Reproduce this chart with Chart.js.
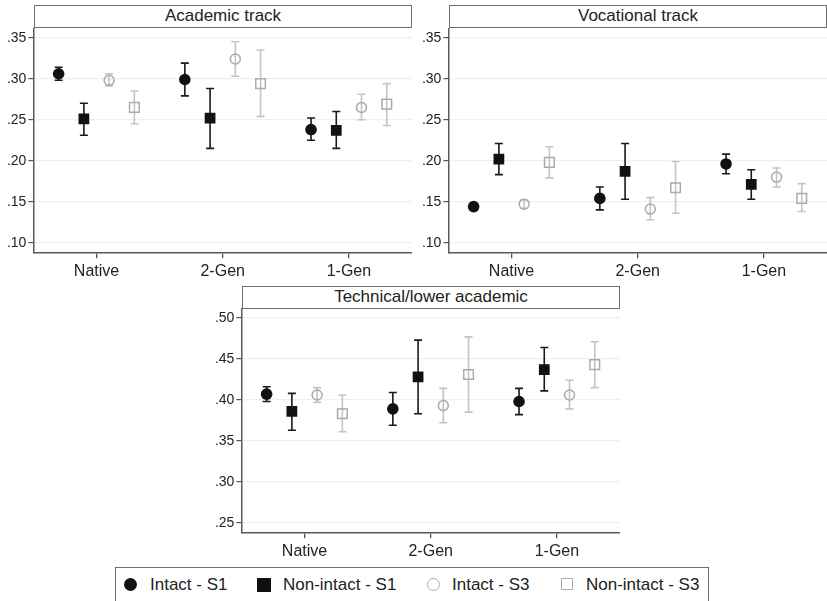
<!DOCTYPE html>
<html>
<head>
<meta charset="utf-8">
<script src="https://cdn.jsdelivr.net/npm/chart.js@4.4.0/dist/chart.umd.min.js"></script>
<style>
  body { margin: 0; background: #fff; font-family: "Liberation Sans", Arial, sans-serif; }
  #wrap { position: relative; width: 827px; height: 601px; overflow: hidden; }
  canvas { position: absolute; }
  .head {
    position: absolute; box-sizing: border-box; height: 23px;
    border: 1.5px solid #6e6e6e; background: #fff; color: #222;
    font-size: 17px; line-height: 20px; text-align: center;
  }
  #legend {
    position: absolute; left: 115px; top: 567px; width: 594px; height: 36px;
    box-sizing: border-box; border: 1.5px solid #6e6e6e; background: #fff;
    font-size: 17px; color: #222;
  }
  .item { position: absolute; top: 7px; line-height: 20px; }
  .mk { position: absolute; box-sizing: border-box; }
</style>
</head>
<body>
<div id="wrap">
  <div class="head" style="left:34px;top:5px;width:378px;">Academic track</div>
  <div class="head" style="left:449px;top:5px;width:378px;">Vocational track</div>
  <div class="head" style="left:242px;top:286px;width:378px;">Technical/lower academic</div>
  <canvas id="c1" style="left:0px;top:28px;"></canvas>
  <canvas id="c2" style="left:415px;top:28px;"></canvas>
  <canvas id="c3" style="left:208px;top:308px;"></canvas>
  <div id="legend"></div>
</div>
<script>
// categories and series
const categories = ['Native', '2-Gen', '1-Gen'];
const seriesNames = ['Intact - S1', 'Non-intact - S1', 'Intact - S3', 'Non-intact - S3'];
const seriesOffsets = [-0.3, -0.1, 0.1, 0.3];

// tick labels
const trackTicks = [0.10, 0.15, 0.20, 0.25, 0.30, 0.35];
const technicalTicks = [0.25, 0.30, 0.35, 0.40, 0.45, 0.50];

// Academic track: point estimates and [low, high] intervals
const academicIntactS1 = [0.306, 0.299, 0.238];
const academicIntactS1CI = [[0.298, 0.314], [0.279, 0.319], [0.225, 0.252]];
const academicNonIntactS1 = [0.251, 0.252, 0.237];
const academicNonIntactS1CI = [[0.231, 0.270], [0.215, 0.288], [0.215, 0.260]];
const academicIntactS3 = [0.298, 0.324, 0.265];
const academicIntactS3CI = [[0.291, 0.306], [0.303, 0.345], [0.250, 0.281]];
const academicNonIntactS3 = [0.265, 0.294, 0.269];
const academicNonIntactS3CI = [[0.245, 0.285], [0.254, 0.335], [0.243, 0.294]];

// Vocational track
const vocationalIntactS1 = [0.144, 0.154, 0.196];
const vocationalIntactS1CI = [[0.140, 0.148], [0.140, 0.168], [0.184, 0.208]];
const vocationalNonIntactS1 = [0.202, 0.187, 0.171];
const vocationalNonIntactS1CI = [[0.183, 0.221], [0.153, 0.221], [0.153, 0.189]];
const vocationalIntactS3 = [0.147, 0.141, 0.180];
const vocationalIntactS3CI = [[0.142, 0.152], [0.128, 0.155], [0.168, 0.191]];
const vocationalNonIntactS3 = [0.198, 0.167, 0.154];
const vocationalNonIntactS3CI = [[0.179, 0.217], [0.136, 0.199], [0.138, 0.172]];

// Technical/lower academic
const technicalIntactS1 = [0.407, 0.389, 0.398];
const technicalIntactS1CI = [[0.398, 0.416], [0.369, 0.409], [0.382, 0.414]];
const technicalNonIntactS1 = [0.386, 0.428, 0.437];
const technicalNonIntactS1CI = [[0.363, 0.408], [0.383, 0.473], [0.411, 0.464]];
const technicalIntactS3 = [0.406, 0.393, 0.406];
const technicalIntactS3CI = [[0.397, 0.415], [0.372, 0.414], [0.389, 0.424]];
const technicalNonIntactS3 = [0.383, 0.431, 0.443];
const technicalNonIntactS3CI = [[0.361, 0.406], [0.385, 0.477], [0.415, 0.471]];

const BLACK = '#111111';
const GREY = '#ababab';
const GREY_BAR = '#c4c4c4';

const styles = [
  { pointStyle: 'circle', radius: 5.8, bg: BLACK, border: BLACK, bw: 0, bar: '#1a1a1a' },
  { pointStyle: 'rect', radius: 7.6, bg: BLACK, border: BLACK, bw: 0, bar: '#1a1a1a' },
  { pointStyle: 'circle', radius: 5, bg: 'rgba(0,0,0,0)', border: GREY, bw: 1.5, bar: GREY_BAR },
  { pointStyle: 'rect', radius: 6.8, bg: 'rgba(0,0,0,0)', border: GREY, bw: 1.5, bar: GREY_BAR }
];

function makeSets(values, intervals) {
  return values.map((vals, s) => ({
    label: seriesNames[s],
    data: vals.map((v, i) => ({ x: i + seriesOffsets[s], y: v })),
    ci: intervals[s],
    barColor: styles[s].bar,
    pointStyle: styles[s].pointStyle,
    pointRadius: styles[s].radius,
    pointHoverRadius: styles[s].radius,
    pointBackgroundColor: styles[s].bg,
    pointBorderColor: styles[s].border,
    pointBorderWidth: styles[s].bw,
    showLine: false
  }));
}

const errorBars = {
  id: 'errorBars',
  beforeDatasetsDraw(chart) {
    const ctx = chart.ctx, xs = chart.scales.x, ys = chart.scales.y;
    chart.data.datasets.forEach(ds => {
      ctx.save();
      ctx.strokeStyle = ds.barColor;
      ctx.lineWidth = 1.6;
      ds.ci.forEach((ci, i) => {
        const px = xs.getPixelForValue(ds.data[i].x);
        const lo = ys.getPixelForValue(ci[0]);
        const hi = ys.getPixelForValue(ci[1]);
        ctx.beginPath();
        ctx.moveTo(px, lo); ctx.lineTo(px, hi);
        ctx.moveTo(px - 4, lo); ctx.lineTo(px + 4, lo);
        ctx.moveTo(px - 4, hi); ctx.lineTo(px + 4, hi);
        ctx.stroke();
      });
      ctx.restore();
    });
  }
};

function noPad(s) {
  s.paddingTop = 0; s.paddingBottom = 0; s.paddingLeft = 0; s.paddingRight = 0;
}

function makeChart(id, width, yMin, yMax, yTicks, values, intervals) {
  const cv = document.getElementById(id);
  cv.width = width; cv.height = 262;
  cv.style.width = width + 'px'; cv.style.height = '262px';
  return new Chart(cv.getContext('2d'), {
    type: 'scatter',
    data: { datasets: makeSets(values, intervals) },
    plugins: [errorBars],
    options: {
      responsive: false,
      animation: false,
      layout: { padding: 0, autoPadding: false },
      plugins: { legend: { display: false }, tooltip: { enabled: false } },
      elements: { point: { hitRadius: 0 } },
      scales: {
        x: {
          type: 'linear', min: -0.5, max: 2.5,
          afterBuildTicks: s => { s.ticks = categories.map((c, i) => ({ value: i })); },
          afterFit: s => { s.height = 37.7; noPad(s); },
          ticks: {
            callback: v => categories[v],
            font: { family: 'Liberation Sans', size: 16 },
            color: '#222', padding: 4, maxRotation: 0, autoSkip: false
          },
          grid: { drawOnChartArea: false, tickLength: 6, tickColor: '#555', lineWidth: 1.3 },
          border: { color: '#5a5a5a', width: 1.5 }
        },
        y: {
          min: yMin, max: yMax,
          afterBuildTicks: s => { s.ticks = yTicks.map(v => ({ value: v })); },
          afterFit: s => { s.width = 33.4; noPad(s); },
          ticks: {
            callback: v => v.toFixed(2).replace(/^0/, ''),
            font: { family: 'Liberation Sans', size: 14 },
            color: '#222', padding: 2
          },
          grid: { color: '#efefef', lineWidth: 1.2, tickLength: 5, tickColor: '#555' },
          border: { color: '#5a5a5a', width: 1.5 }
        }
      }
    }
  });
}

makeChart('c1', 412, 0.0883, 0.3618, trackTicks,
  [academicIntactS1, academicNonIntactS1, academicIntactS3, academicNonIntactS3],
  [academicIntactS1CI, academicNonIntactS1CI, academicIntactS3CI, academicNonIntactS3CI]);
makeChart('c2', 412, 0.0883, 0.3618, trackTicks,
  [vocationalIntactS1, vocationalNonIntactS1, vocationalIntactS3, vocationalNonIntactS3],
  [vocationalIntactS1CI, vocationalNonIntactS1CI, vocationalIntactS3CI, vocationalNonIntactS3CI]);
makeChart('c3', 412, 0.2383, 0.5122, technicalTicks,
  [technicalIntactS1, technicalNonIntactS1, technicalIntactS3, technicalNonIntactS3],
  [technicalIntactS1CI, technicalNonIntactS1CI, technicalIntactS3CI, technicalNonIntactS3CI]);

// legend
const legendPos = [[14, 34], [147, 167], [317, 336], [451, 470]];
const legendMarks = [
  'width:13px;height:13px;border-radius:50%;background:#111;',
  'width:14px;height:14px;background:#111;',
  'width:13px;height:13px;border-radius:50%;border:1.5px solid #ababab;',
  'width:12px;height:12px;border:1.5px solid #ababab;'
];
const legend = document.getElementById('legend');
seriesNames.forEach((name, s) => {
  const m = document.createElement('div');
  m.className = 'mk';
  m.style.cssText = legendMarks[s] + 'left:' + (legendPos[s][0] - 6) + 'px;top:10px;';
  legend.appendChild(m);
  const t = document.createElement('div');
  t.className = 'item';
  t.style.left = legendPos[s][1] + 'px';
  t.textContent = name;
  legend.appendChild(t);
});
</script>
</body>
</html>
